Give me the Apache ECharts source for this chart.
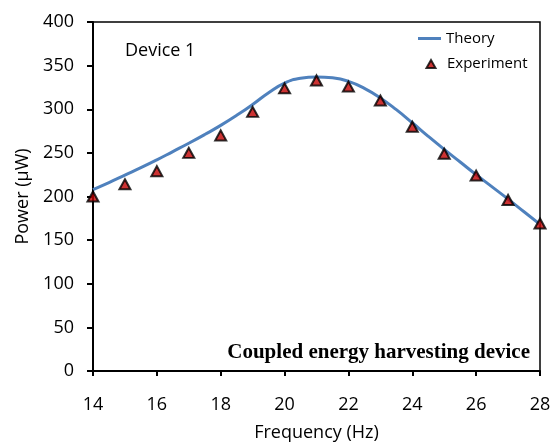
<!DOCTYPE html>
<html><head><meta charset="utf-8">
<script src="https://cdn.jsdelivr.net/npm/echarts@6/dist/echarts.min.js"></script>
<style>html,body{margin:0;padding:0;background:#fff}#c{width:559px;height:447px}</style>
</head><body><div id="c"></div>
<script>
const expFreq = [14,15,16,17,18,19,20,21,22,23,24,25,26,27,28];
const expPower = [200,214,229,250,270,297,324,333,326,310,280,249,224,196,169];
const thFreq = [14,14.5,15,15.5,16,16.5,17,17.5,18,18.5,19,19.5,20,20.5,21,21.5,22,22.5,23,23.5,24,24.5,25,25.5,26,26.5,27,27.5,28];
const thPower = [208,216,224.5,233,242,251.5,261,271,281.5,293,305.5,319,330,335.5,337,336,332,324,313,299.5,284.5,269,254,239.5,225,211,197,182.5,168];
const xTicks = [14,16,18,20,22,24,26,28];
const yTicks = [0,50,100,150,200,250,300,350,400];

const chart = echarts.init(document.getElementById('c'), null, {renderer:'canvas'});
const font = '"Open Sans", "Noto Sans", sans-serif';
const legendText = {fontFamily:font,fontSize:15,color:'#000'};
chart.setOption({
  animation:false,
  grid:{left:93,right:19,top:22,bottom:74,show:true,borderColor:'#000',borderWidth:1.5},
  legend:[
    {left:404, top:26, itemWidth:32, itemHeight:12, textStyle:legendText,
     data:[{name:'Theory',icon:'path://M0,0M32,12M9,4.5H32V7.5H9Z'}]},
    {left:404, top:51, itemWidth:32, itemHeight:12, textStyle:legendText,
     data:[{name:'Experiment',icon:'path://M0,0M32,12M21,2.5L25.5,10.5H16.5Z'}]}
  ],
  xAxis:{type:'value',min:14,max:28,interval:2,
    axisLine:{lineStyle:{color:'#000',width:2}},
    axisTick:{show:true,length:5,lineStyle:{color:'#000',width:2}},
    axisLabel:{fontFamily:font,fontSize:18,color:'#000',margin:25},
    splitLine:{show:false},
    name:'Frequency (Hz)',nameLocation:'middle',nameGap:53,
    nameTextStyle:{fontFamily:font,fontSize:18,color:'#000'}
  },
  yAxis:{type:'value',min:0,max:400,interval:50,
    axisLine:{show:true,lineStyle:{color:'#000',width:2}},
    axisTick:{show:true,length:6,lineStyle:{color:'#000',width:2}},
    axisLabel:{fontFamily:font,fontSize:18,color:'#000',margin:19},
    splitLine:{show:false},
    name:'Power (μW)',nameLocation:'middle',nameGap:60,
    nameTextStyle:{fontFamily:font,fontSize:18,color:'#000'}
  },
  graphic:[
    {type:'text',left:125,top:42,style:{text:'Device 1',font:'18px '+font,fill:'#000'}},
    {type:'text',right:29,top:342,style:{text:'Coupled energy harvesting device',font:'bold 21px "Liberation Serif", serif',fill:'#000'}}
  ],
  series:[
    {name:'Theory',type:'line',smooth:0.5,showSymbol:false,symbol:'none',
     data:thFreq.map((f,i)=>[f,thPower[i]]),
     lineStyle:{color:'#4F81BD',width:3},itemStyle:{color:'#4F81BD'},z:2},
    {name:'Experiment',type:'scatter',symbol:'triangle',symbolSize:[11,10],
     data:expFreq.map((f,i)=>[f,expPower[i]]),
     itemStyle:{color:'#C00000',borderColor:'#000',borderWidth:2},z:3}
  ]
});
</script></body></html>
